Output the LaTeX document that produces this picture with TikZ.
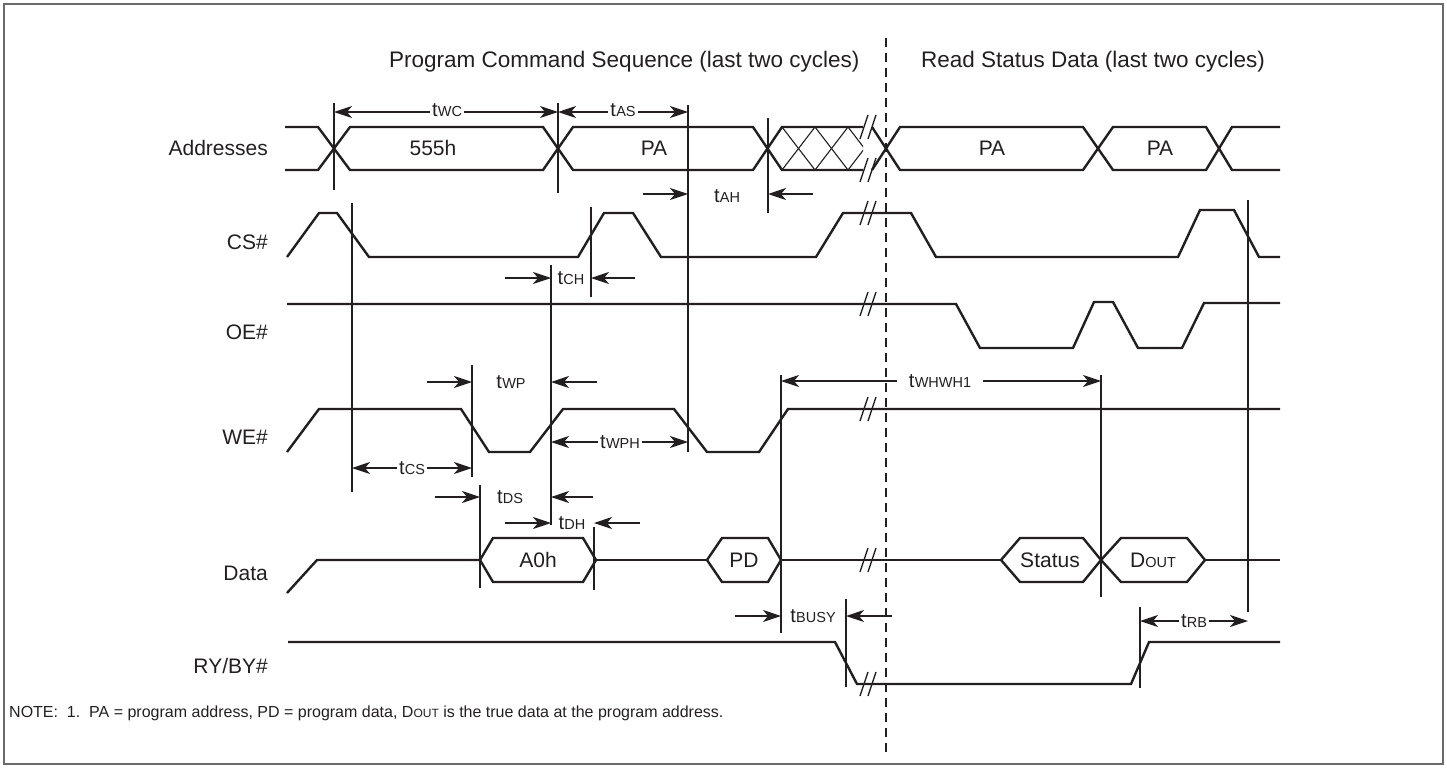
\documentclass[tikz,border=0pt]{standalone}
\usepackage{fontspec}
\setmainfont{Liberation Sans}
\usetikzlibrary{arrows.meta}
\definecolor{ink}{HTML}{231F20}
\definecolor{framegray}{HTML}{6A6A6A}
\newcommand{\tlab}[1]{{\fontsize{20}{22}\selectfont t}\kern0.3pt{\fontsize{14.5}{16}\selectfont #1}}
\newcommand{\dsub}[1]{{\fontsize{14.5}{16}\selectfont #1}}
\newcommand{\brkmark}[2]{\draw[brk] (#1-4,#2+12) -- (#1+4,#2-12);}
\begin{document}
\begin{tikzpicture}[x=1pt,y=-1pt,
  sig/.style={line width=2.4pt, line join=miter, color=ink},
  tl/.style={line width=1.1pt, color=ink},
  brk/.style={line width=1.3pt, color=ink},
  tip/.tip={Stealth[length=18pt,width=12pt,inset=5pt]},
  dim/.style={line width=1.1pt, color=ink, -tip},
  dimb/.style={line width=1.1pt, color=ink, tip-tip},
  lbl/.style={font=\fontsize{21}{24}\selectfont, text=ink, inner sep=1pt},
  ttl/.style={font=\fontsize{22.5}{26}\selectfont, text=ink, inner sep=0pt},
  tlbl/.style={text=ink, inner sep=2pt},
  hexlbl/.style={font=\fontsize{21}{24}\selectfont, text=ink, inner sep=0pt}]
\useasboundingbox (0,0) rectangle (1447,768);
\draw[framegray, line width=2pt] (4,4) rectangle (1443,764);

% titles
\node[ttl, anchor=west] (title1) at (389,62) {Program Command Sequence (last two cycles)};
\node[ttl] (title2) at (1093,62) {Read Status Data (last two cycles)};

% signal names
\node[lbl, anchor=east] (nAddr) at (269,148) {Addresses};
\node[lbl, anchor=east] (nCS) at (269,242) {CS\#};
\node[lbl, anchor=east] (nOE) at (269,332) {OE\#};
\node[lbl, anchor=east] (nWE) at (269,437) {WE\#};
\node[lbl, anchor=east] (nData) at (269,573) {Data};
\node[lbl, anchor=east] (nRY) at (269,666) {RY/BY\#};

% dashed separator
\draw[ink, line width=1.1pt, dash pattern=on 9pt off 6pt] (886,38) -- (886,752);

% timing reference lines
\draw[tl] (334,103) -- (334,190);
\draw[tl] (558,103) -- (558,193);
\draw[tl] (688,105) -- (688,452);
\draw[tl] (768,118) -- (768,213);
\draw[tl] (352,203) -- (352,492);
\draw[tl] (591,207) -- (591,297);
\draw[tl] (551,265) -- (551,525);
\draw[tl] (472,365) -- (472,477);
\draw[tl] (480,485) -- (480,588);
\draw[tl] (594,527) -- (594,590);
\draw[tl] (781,375) -- (781,633);
\draw[tl] (1101,375) -- (1101,597);
\draw[tl] (846,599) -- (846,687);
\draw[tl] (1140,607) -- (1140,688);
\draw[tl] (1248,200) -- (1248,612);

% Addresses
\draw[sig] (285,127) -- (318,127) -- (350,170) -- (543,170) -- (573,127) -- (753,127) -- (782,170) -- (863,170);
\draw[sig] (285,170) -- (318,170) -- (350,127) -- (543,127) -- (573,170) -- (753,170) -- (782,127) -- (863,127);
\draw[sig] (872,127) -- (900,170) -- (1083,170) -- (1113,127) -- (1206,127) -- (1232,170) -- (1280,170);
\draw[sig] (872,170) -- (900,127) -- (1083,127) -- (1113,170) -- (1206,170) -- (1232,127) -- (1280,127);
\begin{scope}
  \clip (772,127) rectangle (863,170);
  \foreach \h in {782,815,848} {
    \draw[tl] (\h,127) -- (\h+33,170);
    \draw[tl] (\h,170) -- (\h+33,127);
  }
\end{scope}
\node[hexlbl] (a1) at (433,148) {555h};
\node[hexlbl] (a2) at (654,148) {PA};
\node[hexlbl] (a3) at (992,148) {PA};
\node[hexlbl] (a4) at (1160,148) {PA};

% CS#
\draw[sig] (287,257) -- (319,213) -- (337,213) -- (369,257) -- (578,257) -- (604,213) -- (633,213) -- (661,257) -- (816,257) -- (843,213) -- (911,213) -- (936,257) -- (1178,257) -- (1200,210) -- (1234,210) -- (1259,257) -- (1280,257);

% OE#
\draw[sig] (287,304) -- (956,304) -- (980,348) -- (1073,348) -- (1094,302) -- (1113,302) -- (1138,348) -- (1182,348) -- (1204,303) -- (1280,303);

% WE#
\draw[sig] (287,452) -- (319,409) -- (461,409) -- (489,452) -- (530,452) -- (563,409) -- (674,409) -- (707,452) -- (759,452) -- (788,409) -- (1280,409);

% Data
\draw[sig] (287,593) -- (317,560) -- (480,560);
\draw[sig] (480,560) -- (493,538) -- (583,538) -- (596,560) -- (583,582) -- (493,582) -- cycle;
\draw[sig] (596,560) -- (707,560);
\draw[sig] (707,560) -- (722,538) -- (768,538) -- (781,560) -- (768,582) -- (722,582) -- cycle;
\draw[sig] (781,560) -- (1001,560);
\draw[sig] (1001,560) -- (1020,538) -- (1083,538) -- (1101,560) -- (1083,582) -- (1020,582) -- cycle;
\draw[sig] (1101,560) -- (1121,538) -- (1187,538) -- (1205,560) -- (1187,582) -- (1121,582) -- cycle;
\draw[sig] (1205,560) -- (1280,560);
\node[hexlbl] (d1) at (538,560) {A0h};
\node[hexlbl] (d2) at (744,560) {PD};
\node[hexlbl] (d3) at (1050,560) {Status};
\node[hexlbl] (d4) at (1153,560) {D\dsub{OUT}};

% RY/BY#
\draw[sig] (288,642) -- (835,642) -- (857,684) -- (1131,684) -- (1149,642) -- (1280,642);

% break marks
\foreach \yy in {127,170,213,304,409,560,684} {
  \brkmark{864}{\yy}
  \brkmark{872}{\yy}
}

% dimensions
\draw[dimb] (334,112) -- (558,112);
\node[tlbl, fill=white] (tWC) at (447,110) {\tlab{WC}};
\draw[dimb] (558,112) -- (688,112);
\node[tlbl, fill=white] (tAS) at (623,110) {\tlab{AS}};

\draw[dim] (643,194) -- (688,194);
\draw[dim] (813,194) -- (768,194);
\node[tlbl] (tAH) at (727,196) {\tlab{AH}};

\draw[dim] (505,278) -- (551,278);
\draw[dim] (635,278) -- (591,278);
\node[tlbl] (tCH) at (571,278) {\tlab{CH}};

\draw[dim] (427,382) -- (472,382);
\draw[dim] (597,382) -- (551,382);
\node[tlbl] (tWP) at (511,382) {\tlab{WP}};

\draw[dimb] (551,442) -- (688,442);
\node[tlbl, fill=white] (tWPH) at (620,442) {\tlab{WPH}};

\draw[dimb] (352,468) -- (472,468);
\node[tlbl, fill=white] (tCS) at (412,468) {\tlab{CS}};

\draw[dim] (435,497) -- (480,497);
\draw[dim] (593,497) -- (551,497);
\node[tlbl] (tDS) at (510,497) {\tlab{DS}};

\draw[dim] (505,523) -- (551,523);
\draw[dim] (640,523) -- (594,523);
\node[tlbl] (tDH) at (572,523) {\tlab{DH}};

\draw[dimb] (781,381) -- (1101,381);
\node[tlbl, fill=white, inner xsep=12pt] (tWHWH) at (940,381) {\tlab{WHWH1}};

\draw[dim] (735,616) -- (781,616);
\draw[dim] (892,616) -- (846,616);
\node[tlbl] (tBUSY) at (813,616) {\tlab{BUSY}};

\draw[dimb] (1140,621) -- (1248,621);
\node[tlbl, fill=white] (tRB) at (1194,621) {\tlab{RB}};

% note
\node[anchor=west, text=ink, inner sep=0pt, font=\fontsize{16}{18}\selectfont] (note) at (9,713) {NOTE:\ \ 1.\ \ PA = program address, PD = program data, D{\fontsize{12}{14}\selectfont OUT} is the true data at the program address.};
\end{tikzpicture}
\end{document}
